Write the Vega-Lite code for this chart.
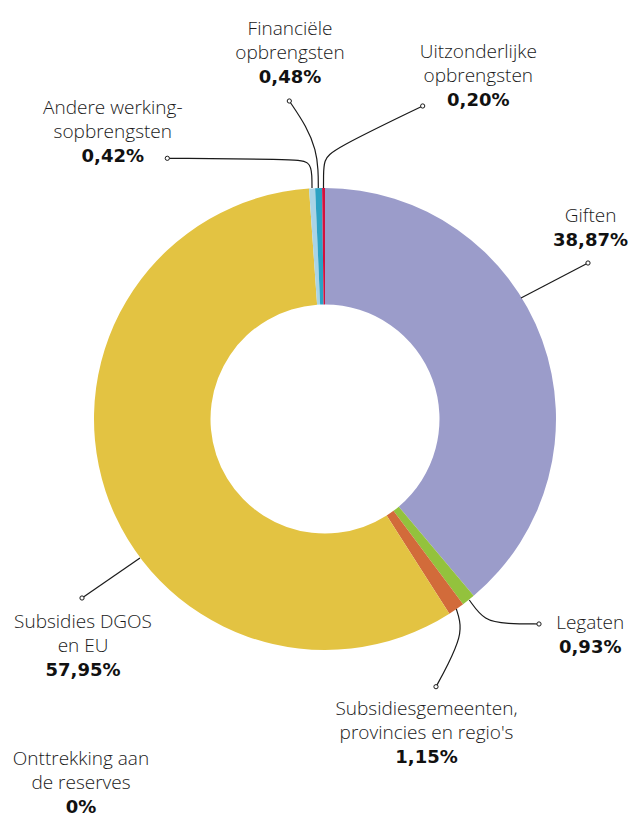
{
  "$schema": "https://vega.github.io/schema/vega-lite/v6.json",
  "width": 612,
  "height": 790,
  "autosize": {"type": "none"},
  "padding": {"left": 19, "top": 24, "right": 0, "bottom": 0},
  "background": "white",
  "config": {"view": {"stroke": null}, "font": "Open Sans"},
  "datasets": {
    "slices": [
      {"category": "Giften", "share": 38.87, "rank": 1},
      {"category": "Legaten", "share": 0.93, "rank": 2},
      {"category": "Subsidies gemeenten, provincies en regio's", "share": 1.15, "rank": 3},
      {"category": "Subsidies DGOS en EU", "share": 57.95, "rank": 4},
      {"category": "Onttrekking aan de reserves", "share": 0, "rank": 5},
      {"category": "Andere werkingsopbrengsten", "share": 0.42, "rank": 6},
      {"category": "Financiële opbrengsten", "share": 0.48, "rank": 7},
      {"category": "Uitzonderlijke opbrengsten", "share": 0.20, "rank": 8}
    ],
    "labels": [
      {"category": "Giften", "name": "Giften", "pct": "38,87%", "x": 114.94, "y": 85.15},
      {"category": "Legaten", "name": "Legaten", "pct": "0,93%", "x": 114.81, "y": -91.04},
      {"category": "Subsidies gemeenten, provincies en regio's", "name": "Subsidiesgemeenten,\nprovincies en regio's", "pct": "1,15%", "x": 43.94, "y": -128.27},
      {"category": "Subsidies DGOS en EU", "name": "Subsidies DGOS\nen EU", "pct": "57,95%", "x": -104.76, "y": -90.35},
      {"category": "Onttrekking aan de reserves", "name": "Onttrekking aan\nde reserves", "pct": "0%", "x": -105.63, "y": -149.91},
      {"category": "Andere werkingsopbrengsten", "name": "Andere werking-\nsopbrengsten", "pct": "0,42%", "x": -91.86, "y": 131.91},
      {"category": "Financiële opbrengsten", "name": "Financiële\nopbrengsten", "pct": "0,48%", "x": -15.15, "y": 166.23},
      {"category": "Uitzonderlijke opbrengsten", "name": "Uitzonderlijke\nopbrengsten", "pct": "0,20%", "x": 66.36, "y": 156.41}
    ],
    "leaders": [
      {"category": "Giften", "step": 1, "x": 113.85, "y": 67.53},
      {"category": "Giften", "step": 2, "x": 84.85, "y": 52.38},
      {"category": "Legaten", "step": 1, "x": 92.64, "y": -88.74},
      {"category": "Legaten", "step": 2, "x": 78.8, "y": -88.6},
      {"category": "Legaten", "step": 3, "x": 69.0, "y": -87.5},
      {"category": "Legaten", "step": 4, "x": 62.47, "y": -78.35},
      {"category": "Subsidies gemeenten", "step": 1, "x": 48.05, "y": -115.89},
      {"category": "Subsidies gemeenten", "step": 2, "x": 53.25, "y": -106.49},
      {"category": "Subsidies gemeenten", "step": 3, "x": 58.87, "y": -93.94},
      {"category": "Subsidies gemeenten", "step": 4, "x": 58.44, "y": -87.01},
      {"category": "Subsidies gemeenten", "step": 5, "x": 56.84, "y": -82.25},
      {"category": "Subsidies DGOS en EU", "step": 1, "x": -105.19, "y": -77.49},
      {"category": "Subsidies DGOS en EU", "step": 2, "x": -80.09, "y": -60.17},
      {"category": "Andere werkingsopbrengsten", "step": 1, "x": -68.27, "y": 112.86},
      {"category": "Andere werkingsopbrengsten", "step": 2, "x": -15.0, "y": 112.4},
      {"category": "Andere werkingsopbrengsten", "step": 3, "x": -6.2, "y": 111.8},
      {"category": "Andere werkingsopbrengsten", "step": 4, "x": -5.63, "y": 105.0},
      {"category": "Andere werkingsopbrengsten", "step": 5, "x": -5.63, "y": 100.0},
      {"category": "Financiële opbrengsten", "step": 1, "x": -15.45, "y": 137.66},
      {"category": "Financiële opbrengsten", "step": 2, "x": -7.92, "y": 126.54},
      {"category": "Financiële opbrengsten", "step": 3, "x": -3.9, "y": 116.45},
      {"category": "Financiële opbrengsten", "step": 4, "x": -2.9, "y": 107.79},
      {"category": "Financiële opbrengsten", "step": 5, "x": -2.9, "y": 100.0},
      {"category": "Uitzonderlijke opbrengsten", "step": 1, "x": 42.29, "y": 135.5},
      {"category": "Uitzonderlijke opbrengsten", "step": 2, "x": 3.0, "y": 116.5},
      {"category": "Uitzonderlijke opbrengsten", "step": 3, "x": -0.5, "y": 112.0},
      {"category": "Uitzonderlijke opbrengsten", "step": 4, "x": -0.65, "y": 105.0},
      {"category": "Uitzonderlijke opbrengsten", "step": 5, "x": -0.65, "y": 100.0}
    ]
  },
  "layer": [
    {
      "data": {"name": "slices"},
      "mark": {"type": "arc", "radius": 231, "radius2": 114.5},
      "encoding": {
        "theta": {"field": "share", "type": "quantitative", "stack": true},
        "order": {"field": "rank", "type": "quantitative"},
        "color": {
          "field": "category",
          "type": "nominal",
          "legend": null,
          "scale": {
            "domain": ["Giften", "Legaten", "Subsidies gemeenten, provincies en regio's", "Subsidies DGOS en EU", "Onttrekking aan de reserves", "Andere werkingsopbrengsten", "Financiële opbrengsten", "Uitzonderlijke opbrengsten"],
            "range": ["#9b9cca", "#93c23d", "#d26b3a", "#e3c342", "#888888", "#a9d4e6", "#2ba2c3", "#d4113d"]
          }
        }
      }
    },
    {
      "data": {"name": "leaders"},
      "mark": {"type": "line", "interpolate": "basis", "stroke": "#1a1a1a", "strokeWidth": 1.2},
      "encoding": {
        "x": {"field": "x", "type": "quantitative", "axis": null, "scale": {"domain": [-132.468, 132.468], "nice": false, "zero": false}},
        "y": {"field": "y", "type": "quantitative", "axis": null, "scale": {"domain": [-170.996, 170.996], "nice": false, "zero": false}},
        "detail": {"field": "category"},
        "order": {"field": "step", "type": "quantitative"}
      }
    },
    {
      "data": {"name": "leaders"},
      "transform": [{"filter": "datum.step == 1"}],
      "mark": {"type": "point", "shape": "circle", "size": 18, "filled": true, "fill": "white", "stroke": "#1a1a1a", "strokeWidth": 1, "opacity": 1},
      "encoding": {
        "x": {"field": "x", "type": "quantitative"},
        "y": {"field": "y", "type": "quantitative"}
      }
    },
    {
      "data": {"name": "labels"},
      "mark": {"type": "text", "align": "center", "baseline": "alphabetic", "lineBreak": "\n", "lineHeight": 24, "fontSize": 19, "fontWeight": 300, "fill": "#1a1a1a"},
      "encoding": {
        "x": {"field": "x", "type": "quantitative"},
        "y": {"field": "y", "type": "quantitative"},
        "text": {"field": "name"}
      }
    },
    {
      "data": {"name": "labels"},
      "transform": [{"calculate": "length(split(datum.name, '\\n'))", "as": "nlines"}],
      "mark": {"type": "text", "align": "center", "baseline": "alphabetic", "dy": {"expr": "24 * datum.nlines"}, "font": "DejaVu Sans", "fontSize": 18, "fontWeight": "bold", "fill": "#111111"},
      "encoding": {
        "x": {"field": "x", "type": "quantitative"},
        "y": {"field": "y", "type": "quantitative"},
        "text": {"field": "pct"}
      }
    }
  ]
}
